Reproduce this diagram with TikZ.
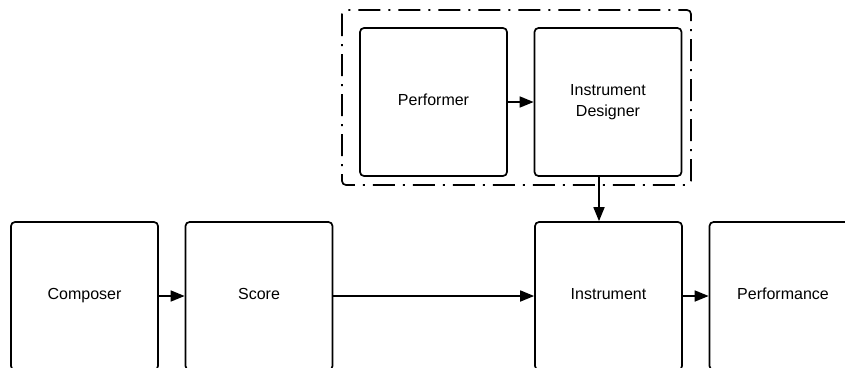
\documentclass[tikz,border=0pt]{standalone}
\usepackage{fontspec}
\setmainfont{Liberation Sans}
\usetikzlibrary{arrows.meta}
\begin{document}
\begin{tikzpicture}[x=1pt,y=-1pt,
  box/.style={draw=black,line width=1.7pt,rounded corners=4pt,
    minimum width=147pt,minimum height=148pt,inner sep=0pt,
    align=center,font=\fontsize{16}{21}\selectfont},
  oneline/.style={text height=11.5pt,text depth=5.5pt},
  arr/.style={line width=1.7pt,-{Triangle[length=14pt,width=11pt]}},
  groupline/.style={line width=1.7pt,rounded corners=4pt,
    dash pattern=on 22pt off 8pt on 2pt off 8pt}]
\useasboundingbox (0,0) rectangle (845,367);
\clip (0,0) rectangle (845,367);

% performer group
\draw[groupline] (342,10) rectangle (691,185);
\node[box,oneline] (performer) at (433.5,102) {Performer};
\node[box] (designer) at (608,102) {Instrument\\Designer};

% main chain
\node[box,oneline] (composer) at (84.5,296) {Composer};
\node[box,oneline] (score) at (259,296) {Score};
\node[box,oneline] (instrument) at (608.5,296) {Instrument};
\node[box,oneline] (performance) at (783,296) {Performance};

% connectors
\draw[arr] (performer) -- (designer);
\draw[arr] ([xshift=-9pt]designer.south) -- ([xshift=-9.5pt]instrument.north);
\draw[arr] (composer) -- (score);
\draw[arr] (score) -- (instrument);
\draw[arr] (instrument) -- (performance);
\end{tikzpicture}
\end{document}
